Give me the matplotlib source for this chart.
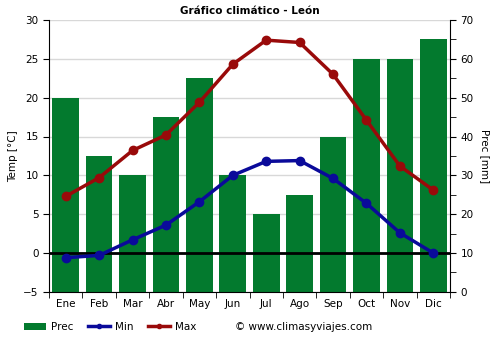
import matplotlib.pyplot as plt
import numpy as np

months = ["Ene", "Feb", "Mar", "Abr", "May", "Jun", "Jul", "Ago", "Sep", "Oct", "Nov", "Dic"]
prec = [50, 35, 30, 45, 55, 30, 20, 25, 40, 60, 60, 65]
t_min = [-0.6, -0.3, 1.7, 3.6, 6.6, 10.0, 11.8, 11.9, 9.6, 6.4, 2.6, 0.0]
t_max = [7.3, 9.7, 13.2, 15.2, 19.4, 24.3, 27.4, 27.1, 23.0, 17.1, 11.2, 8.1]

green = "#037a2e"
blue = "#0a0a9a"
red = "#990a0a"

fig = plt.figure(figsize=(5, 3.5), dpi=100)
ax = fig.add_axes([0.098, 0.166, 0.802, 0.777])
ax2 = ax.twinx()

x = np.arange(len(months))

# precipitation bars on the right axis, drawn behind the temperature lines
ax2.bar(x, prec, width=0.8, color=green, zorder=2, label="Prec")
ax2.set_ylim(0, 70)
ax2.set_yticks(range(0, 71, 10))
ax2.set_yticks(range(5, 70, 10), minor=True)
ax2.set_ylabel("Prec [mm]", fontsize=7.5, rotation=270, labelpad=12)

ax.set_zorder(ax2.get_zorder() + 1)
ax.patch.set_visible(False)

ax.axhline(0, color="black", lw=2, zorder=3)
ax.plot(x, t_min, color=blue, lw=2.5, marker="o", ms=6, zorder=4, label="Min")
ax.plot(x, t_max, color=red, lw=2.5, marker="o", ms=6, zorder=4, label="Max")

ax.set_ylim(-5, 30)
ax.set_xlim(-0.5, 11.5)
ax.set_yticks(range(-5, 31, 5))
ax.set_xticks(x)
ax.set_xticklabels(months)
ax.set_ylabel("Temp [°C]", fontsize=7.5)
ax.set_title("Gráfico climático - León", fontsize=7.5, fontweight="bold", pad=4)

# grid sits on ax2 so it stays under the bars
ax2.set_xticks(np.arange(-0.5, 12, 1), minor=True)
ax2.grid(True, which="minor", axis="x", color="#d8d8d8", lw=1, zorder=0)
ax2.set_axisbelow(True)
for yv in range(-5, 31, 5):
    ax2.axhline((yv + 5) * 2, color="#d8d8d8", lw=1, zorder=0)

for a in (ax, ax2):
    a.tick_params(labelsize=7.5, length=4, colors="black")
    a.tick_params(which="minor", length=4)
    for s in a.spines.values():
        s.set_visible(False)
ax.spines["left"].set_visible(True)
ax2.spines["right"].set_visible(True)
ax2.spines["bottom"].set_visible(True)
ax.tick_params(axis="x", length=0, pad=5)
ax2.tick_params(axis="x", which="minor", length=4, labelbottom=False)
ax2.tick_params(axis="x", which="major", length=0, labelbottom=False)

h1, l1 = ax2.get_legend_handles_labels()
h2, l2 = ax.get_legend_handles_labels()
fig.legend(h1 + h2, l1 + l2, loc="center left", bbox_to_anchor=(0.048, 0.066),
           ncol=3, frameon=False, fontsize=7.5, handlelength=2.1, columnspacing=1.4,
           handletextpad=0.5, markerscale=0.5, borderpad=0, borderaxespad=0)
fig.text(0.47, 0.066, "© www.climasyviajes.com", fontsize=7.5, va="center")

fig.savefig("out.png", dpi=100)
